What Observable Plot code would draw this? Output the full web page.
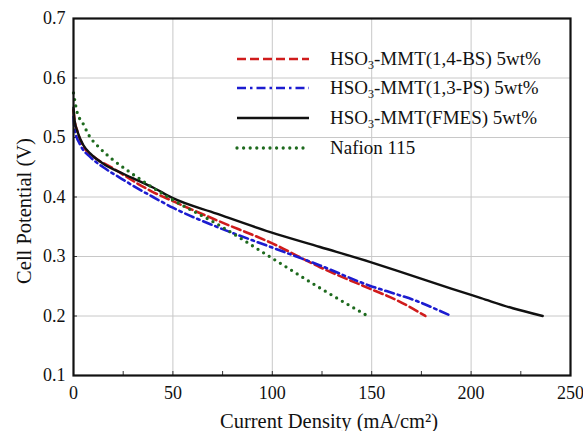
<!DOCTYPE html>
<html>
<head>
<meta charset="utf-8">
<script src="https://cdn.jsdelivr.net/npm/d3@7"></script>
<script src="https://cdn.jsdelivr.net/npm/@observablehq/plot@0.6"></script>
<style>
  body { margin: 0; background: #fff; }
  #wrap { position: relative; width: 583px; height: 431px; font-family: "Liberation Serif", serif; }
  #legend { position: absolute; left: 0; top: 0; }
  .row { position: absolute; left: 235px; height: 20px; display: flex; align-items: center; }
  .row svg { width: 76px; height: 8px; }
  .row span { position: absolute; left: 95px; white-space: nowrap; font-size: 19px; color: #111; line-height: 20px; }
  sub { font-size: 12px; vertical-align: -4px; line-height: 0; }
</style>
</head>
<body>
<div id="wrap"><div id="legend"></div></div>
<script>
// ---- data ----
const seriesNames = ["HSO3-MMT(1,4-BS) 5wt%", "HSO3-MMT(1,3-PS) 5wt%", "HSO3-MMT(FMES) 5wt%", "Nafion 115"];

const bsX = [0, 0.5, 2, 5, 10, 20, 32, 39, 50, 72, 100, 124, 149, 163, 177];
const bsY = [0.546, 0.53, 0.51, 0.485, 0.468, 0.448, 0.423, 0.41, 0.393, 0.361, 0.322, 0.282, 0.246, 0.226, 0.2];

const psX = [0, 0.5, 3.5, 8.5, 15, 24, 32, 40, 50, 72, 100, 124, 149, 163, 172, 182, 190];
const psY = [0.535, 0.515, 0.487, 0.467, 0.45, 0.431, 0.415, 0.4, 0.382, 0.35, 0.315, 0.285, 0.251, 0.236, 0.226, 0.212, 0.2];

const fmX = [0, 0.5, 2, 5, 8.5, 15, 25, 40, 50, 72, 99, 124, 149, 163, 190, 205, 221, 236];
const fmY = [0.55, 0.53, 0.51, 0.487, 0.473, 0.456, 0.439, 0.416, 0.398, 0.372, 0.341, 0.316, 0.291, 0.276, 0.246, 0.230, 0.213, 0.2];

const nfX = [0, 2, 4.4, 7.7, 13.6, 20, 27, 37, 50, 72, 100, 124, 148];
const nfY = [0.575, 0.54, 0.526, 0.504, 0.481, 0.462, 0.445, 0.422, 0.395, 0.355, 0.297, 0.247, 0.2];

const xTicks = [0, 50, 100, 150, 200, 250];
const xMinor = [25, 75, 125, 175, 225];
const yTicks = [0.1, 0.2, 0.3, 0.4, 0.5, 0.6, 0.7];

// ---- styles ----
const styles = [
  {stroke: "#d01c1c", strokeWidth: 2.6, strokeDasharray: "9,4"},
  {stroke: "#1c1cd0", strokeWidth: 2.6, strokeDasharray: "9,4,2.5,4"},
  {stroke: "#111111", strokeWidth: 2.4, strokeDasharray: null},
  {stroke: "#1e6a1e", strokeWidth: 3.3, strokeDasharray: "0,6.6", strokeLinecap: "round"}
];

const toRows = (xs, ys) => xs.map((x, i) => ({x, y: ys[i]}));
const series = [toRows(bsX, bsY), toRows(psX, psY), toRows(fmX, fmY), toRows(nfX, nfY)];

const W = 583, H = 431;
const mL = 73, mR = 13, mT = 18, mB = 56;
const pw = W - mL - mR, ph = H - mT - mB;

const chart = Plot.plot({
  width: W, height: H,
  marginLeft: mL, marginRight: mR, marginTop: mT, marginBottom: mB,
  style: {fontFamily: "Liberation Serif, serif", color: "#111", background: "transparent"},
  x: {domain: [0, 250]},
  y: {domain: [0.1, 0.7]},
  marks: [
    Plot.gridX(xTicks.slice(1, -1), {stroke: "#c8c8c8", strokeOpacity: 1, strokeWidth: 1}),
    Plot.gridY(yTicks.slice(1, -1), {stroke: "#c8c8c8", strokeOpacity: 1, strokeWidth: 1}),
    Plot.tickX(xTicks.concat(xMinor), {x: d => d, stroke: "#333", strokeWidth: 1, insetTop: ph - 4}),
    Plot.tickY(yTicks, {y: d => d, stroke: "#333", strokeWidth: 1, insetRight: pw - 4}),
    Plot.axisX(xTicks, {tickSize: 0, tickPadding: 11, fontSize: 18,
      label: "Current Density (mA/cm²)", labelAnchor: "center", labelArrow: "none", labelOffset: 46}),
    Plot.axisY(yTicks, {tickSize: 0, tickPadding: 8, fontSize: 18, tickFormat: d3.format(".1f"),
      label: "Cell Potential (V)", labelAnchor: "center", labelArrow: "none", labelOffset: 52}),
    ...series.map((d, i) => Plot.line(d, {x: "x", y: "y", curve: "monotone-x", ...styles[i]})),
    Plot.frame({stroke: "#111", strokeWidth: 2.2})
  ]
});

// position & size axis titles like the reference (move to svg root)
function placeLabel(sel, transform) {
  const t = chart.querySelector(sel);
  if (!t) return;
  chart.appendChild(t);
  t.setAttribute("font-size", 20.5);
  t.setAttribute("fill", "#111");
  t.setAttribute("font-family", "Liberation Serif, serif");
  t.setAttribute("transform", transform);
  t.setAttribute("text-anchor", "middle");
  t.removeAttribute("x");
  t.removeAttribute("y");
  t.setAttribute("dy", "0.35em");
}
placeLabel("g[aria-label='x-axis label'] text", "translate(329,421)");
placeLabel("g[aria-label='y-axis label'] text", "translate(24,211) rotate(-90)");

document.getElementById("wrap").prepend(chart);

// ---- legend ----
const legend = document.getElementById("legend");
const labelsHTML = [
  "HSO<sub>3</sub>-MMT(1,4-BS) 5wt%",
  "HSO<sub>3</sub>-MMT(1,3-PS) 5wt%",
  "HSO<sub>3</sub>-MMT(FMES) 5wt%",
  "Nafion 115"
];
seriesNames.forEach((name, i) => {
  const row = document.createElement("div");
  row.className = "row";
  row.style.top = (48.5 + i * 29.7) + "px";
  const s = styles[i];
  row.innerHTML = `<svg viewBox="0 0 76 8"><line x1="2" y1="4" x2="74" y2="4" stroke="${s.stroke}" stroke-width="${s.strokeWidth}" ${s.strokeDasharray ? `stroke-dasharray="${s.strokeDasharray}"` : ""} ${s.strokeLinecap ? `stroke-linecap="${s.strokeLinecap}"` : ""}/></svg><span>${labelsHTML[i]}</span>`;
  row.setAttribute("title", name);
  legend.appendChild(row);
});
</script>
</body>
</html>
